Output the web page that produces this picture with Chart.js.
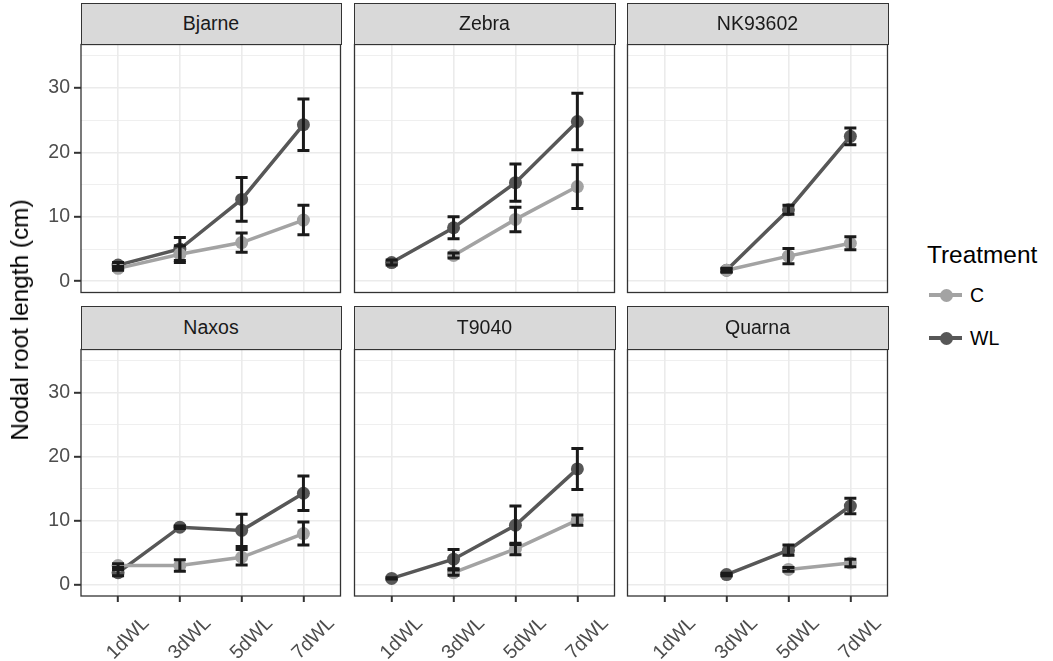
<!DOCTYPE html>
<html>
<head>
<meta charset="utf-8">
<script src="https://cdn.jsdelivr.net/npm/chart.js@4.4.1/dist/chart.umd.min.js"></script>
<style>
  html, body { margin: 0; padding: 0; background: #ffffff; width: 1053px; height: 661px; overflow: hidden;
    font-family: "Liberation Sans", Arial, Helvetica, sans-serif; }
  canvas { position: absolute; }
  .strip { position: absolute; box-sizing: border-box; background: #d9d9d9; border: 1.3px solid #333333;
    color: #1a1a1a; font-size: 19.5px; display: flex; align-items: center; justify-content: center; z-index: 2; }
  .ytitle { position: absolute; font-size: 24.4px; color: #000; white-space: nowrap;
    transform: translate(-50%, -50%) rotate(-90deg); z-index: 3; }
  .legtitle { position: absolute; font-size: 24.4px; color: #000; white-space: nowrap; }
  .leglabel { position: absolute; font-size: 19.5px; color: #000; white-space: nowrap; }
  .legline { position: absolute; height: 4px; }
  .legdot { position: absolute; width: 13px; height: 13px; border-radius: 50%; }
</style>
</head>
<body>
<script>
// ---------------- DATA ----------------
const categories = ['1dWL', '3dWL', '5dWL', '7dWL'];
const panelNames = ['Bjarne', 'Zebra', 'NK93602', 'Naxos', 'T9040', 'Quarna'];
const treatments = ['C', 'WL'];
const yTickValues = [0, 5, 10, 15, 20, 25, 30, 35];
const yTickLabels = ['0', '', '10', '', '20', '', '30', ''];

const bjarneC     = [2.0, 4.2, 6.0, 9.5];
const bjarneCErr  = [0.3, 1.3, 1.5, 2.3];
const bjarneWL    = [2.5, 5.0, 12.7, 24.3];
const bjarneWLErr = [0.4, 1.8, 3.4, 4.0];

const zebraC      = [null, 4.0, 9.6, 14.7];
const zebraCErr   = [null, 0.4, 1.9, 3.4];
const zebraWL     = [2.9, 8.3, 15.3, 24.8];
const zebraWLErr  = [0.4, 1.7, 2.9, 4.4];

const nk93602C     = [null, 1.7, 3.9, 5.9];
const nk93602CErr  = [null, 0.2, 1.2, 1.0];
const nk93602WL    = [null, 1.7, 11.1, 22.5];
const nk93602WLErr = [null, 0.3, 0.7, 1.3];

const naxosC      = [3.0, 3.0, 4.3, 8.0];
const naxosCErr   = [0.3, 0.9, 1.2, 1.8];
const naxosWL     = [1.9, 9.0, 8.5, 14.3];
const naxosWLErr  = [0.5, 0.2, 2.5, 2.7];

const t9040C      = [null, 1.9, 5.6, 10.1];
const t9040CErr   = [null, 0.4, 0.9, 0.8];
const t9040WL     = [1.0, 4.0, 9.3, 18.1];
const t9040WLErr  = [0.1, 1.5, 3.0, 3.2];

const quarnaC     = [null, null, 2.4, 3.4];
const quarnaCErr  = [null, null, 0.3, 0.6];
const quarnaWL    = [null, 1.6, 5.4, 12.3];
const quarnaWLErr = [null, 0.2, 0.8, 1.2];

const cMeans  = [bjarneC, zebraC, nk93602C, naxosC, t9040C, quarnaC];
const cErrs   = [bjarneCErr, zebraCErr, nk93602CErr, naxosCErr, t9040CErr, quarnaCErr];
const wlMeans = [bjarneWL, zebraWL, nk93602WL, naxosWL, t9040WL, quarnaWL];
const wlErrs  = [bjarneWLErr, zebraWLErr, nk93602WLErr, naxosWLErr, t9040WLErr, quarnaWLErr];

// ---------------- LAYOUT / STYLE ----------------
const W = 1053, H = 661;
const colLeft = [81, 354, 627];
const colRight = [341, 615, 888];
const stripTop = [3, 306];
const plotTop = [44, 349];
const plotBottom = [293, 596];
const M = 6;
const FONT = '"Liberation Sans", Arial, Helvetica, sans-serif';
const colorC = '#a3a3a3';
const colorWL = '#575757';
const errColor = '#1a1a1a';
const yMin = -1.75, yMax = 36.75;
const xMin = 0.4, xMax = 4.6;

const errorBarPlugin = {
  id: 'errorBars',
  afterDatasetsDraw(chart) {
    const ctx = chart.ctx;
    const xs = chart.scales.x, ys = chart.scales.y;
    ctx.save();
    ctx.strokeStyle = errColor;
    ctx.lineWidth = 3;
    ctx.lineCap = 'butt';
    chart.data.datasets.forEach(ds => {
      ds.data.forEach((pt, i) => {
        const e = ds.errors[i];
        if (pt.y === null || e === null) return;
        const px = xs.getPixelForValue(pt.x);
        const y1 = ys.getPixelForValue(pt.y - e);
        const y2 = ys.getPixelForValue(pt.y + e);
        const hw = 6;
        ctx.beginPath();
        ctx.moveTo(px, y1); ctx.lineTo(px, y2);
        ctx.moveTo(px - hw, y1); ctx.lineTo(px + hw, y1);
        ctx.moveTo(px - hw, y2); ctx.lineTo(px + hw, y2);
        ctx.stroke();
      });
    });
    ctx.restore();
  }
};

const borderPlugin = {
  id: 'panelBorder',
  afterDraw(chart) {
    const a = chart.chartArea, ctx = chart.ctx;
    ctx.save();
    ctx.strokeStyle = '#333333';
    ctx.lineWidth = 1.3;
    ctx.strokeRect(a.left, a.top, a.right - a.left, a.bottom - a.top);
    ctx.restore();
  }
};

function makeSeries(values, errs, label, color) {
  return {
    label: label,
    data: values.map((v, i) => ({ x: i + 1, y: v })),
    errors: errs,
    borderColor: color,
    backgroundColor: color,
    borderWidth: 3.5,
    pointRadius: 6.5,
    pointBorderWidth: 0,
    pointBackgroundColor: color,
    spanGaps: false,
    tension: 0
  };
}

panelNames.forEach((name, p) => {
  const col = p % 3, row = Math.floor(p / 3);
  const isLeft = col === 0, isBottom = row === 1;
  const cLeft = isLeft ? 0 : colLeft[col] - M;
  const cTop = plotTop[row] - M;
  const cRight = colRight[col] + M;
  const cBottom = isBottom ? H : plotBottom[row] + M;

  const canvas = document.createElement('canvas');
  canvas.width = cRight - cLeft; canvas.height = cBottom - cTop;
  canvas.style.left = cLeft + 'px'; canvas.style.top = cTop + 'px';
  canvas.style.width = canvas.width + 'px'; canvas.style.height = canvas.height + 'px';
  document.body.appendChild(canvas);

  const strip = document.createElement('div');
  strip.className = 'strip';
  strip.textContent = name;
  strip.style.left = (colLeft[col] - 0.5) + 'px';
  strip.style.top = stripTop[row] + 'px';
  strip.style.width = (colRight[col] - colLeft[col] + 1) + 'px';
  strip.style.height = (plotTop[row] - stripTop[row] + 0.6) + 'px';
  document.body.appendChild(strip);

  const yAxisW = isLeft ? colLeft[col] - cLeft : 0;
  const xAxisH = isBottom ? H - plotBottom[row] : 0;

  new Chart(canvas, {
    type: 'line',
    data: {
      datasets: [
        makeSeries(cMeans[p], cErrs[p], treatments[0], colorC),
        makeSeries(wlMeans[p], wlErrs[p], treatments[1], colorWL)
      ]
    },
    options: {
      responsive: false,
      animation: false,
      devicePixelRatio: 1,
      layout: { padding: { left: isLeft ? 0 : M, right: M, top: M, bottom: isBottom ? 0 : M } },
      plugins: { legend: { display: false }, tooltip: { enabled: false } },
      scales: {
        x: {
          type: 'linear',
          min: xMin, max: xMax,
          afterBuildTicks: s => { s.ticks = categories.map((c, i) => ({ value: i + 1 })); },
          afterFit: s => { s.height = xAxisH; s.paddingLeft = 0; s.paddingRight = 0; s.paddingTop = 0; s.paddingBottom = 0; },
          border: { display: false },
          grid: {
            color: '#ebebeb', lineWidth: 1.6,
            drawTicks: isBottom, tickLength: 6, tickColor: '#333333', tickWidth: 2
          },
          ticks: {
            display: isBottom,
            autoSkip: false,
            minRotation: 45, maxRotation: 45,
            labelOffset: 28,
            padding: 10,
            color: '#4d4d4d',
            font: { family: FONT, size: 19.5 },
            callback: v => categories[Math.round(v) - 1]
          }
        },
        y: {
          type: 'linear',
          min: yMin, max: yMax,
          afterBuildTicks: s => { s.ticks = yTickValues.map(v => ({ value: v })); },
          afterFit: s => { s.width = yAxisW; s.paddingTop = 0; s.paddingBottom = 0; s.paddingLeft = 0; s.paddingRight = 0; },
          border: { display: false },
          grid: {
            color: '#ebebeb',
            lineWidth: c => (c.tick && c.tick.value % 10 === 0) ? 1.6 : 0.8,
            drawTicks: isLeft, tickLength: 7,
            tickColor: c => (c.tick && c.tick.value % 10 === 0) ? '#333333' : 'rgba(0,0,0,0)',
            tickWidth: 2
          },
          ticks: {
            display: isLeft,
            padding: 4,
            color: '#4d4d4d',
            font: { family: FONT, size: 19.5 },
            callback: v => yTickLabels[yTickValues.indexOf(v)]
          }
        }
      }
    },
    plugins: [errorBarPlugin, borderPlugin]
  });
});

// Axis title
const yt = document.createElement('div');
yt.className = 'ytitle';
yt.textContent = 'Nodal root length (cm)';
yt.style.left = '20px'; yt.style.top = '320px';
document.body.appendChild(yt);

// Legend
const lt = document.createElement('div');
lt.className = 'legtitle';
lt.textContent = 'Treatment';
lt.style.left = '927px'; lt.style.top = '241px';
document.body.appendChild(lt);

const legendY = [295, 338];
const legendColors = [colorC, colorWL];
treatments.forEach((t, i) => {
  const line = document.createElement('div');
  line.className = 'legline';
  line.style.left = '929px'; line.style.width = '33px';
  line.style.top = (legendY[i] - 2) + 'px';
  line.style.background = legendColors[i];
  document.body.appendChild(line);
  const dot = document.createElement('div');
  dot.className = 'legdot';
  dot.style.left = (946 - 6.5) + 'px'; dot.style.top = (legendY[i] - 6.5) + 'px';
  dot.style.background = legendColors[i];
  document.body.appendChild(dot);
  const lab = document.createElement('div');
  lab.className = 'leglabel';
  lab.textContent = t;
  lab.style.left = '970px'; lab.style.top = (legendY[i] - 11) + 'px';
  document.body.appendChild(lab);
});
</script>
</body>
</html>
